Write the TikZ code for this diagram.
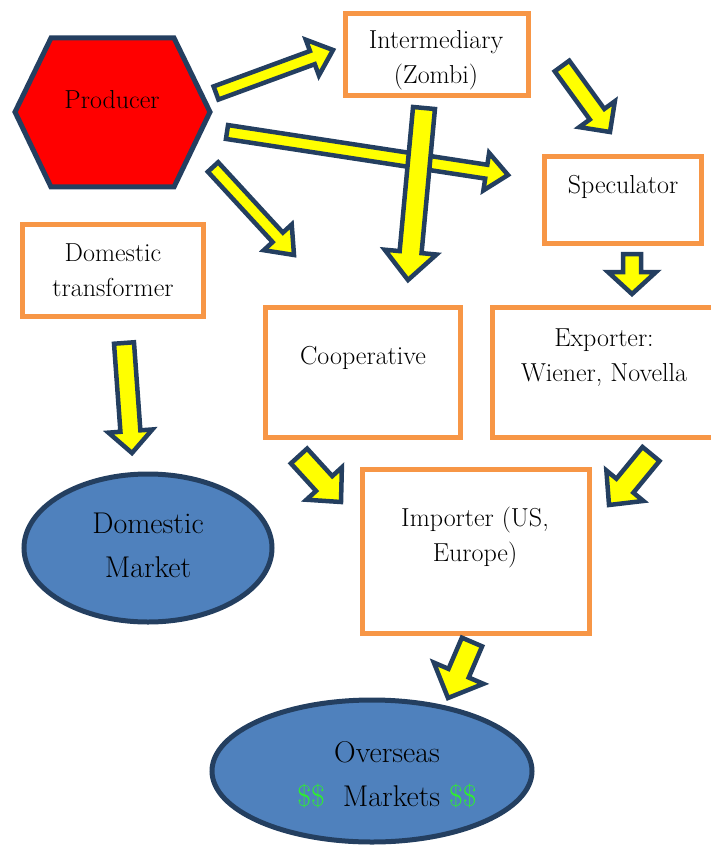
\documentclass[tikz,border=0pt]{standalone}
\usepackage{fontspec}
\usetikzlibrary{shapes.geometric,calc}
\definecolor{navy}{HTML}{243F60}
\definecolor{boxorange}{HTML}{F79646}
\definecolor{mktblue}{HTML}{4F81BD}
\definecolor{dollargreen}{HTML}{2EF02E}
\definecolor{arrowyellow}{HTML}{FFFF00}
\definecolor{prodred}{HTML}{FF0000}

\tikzset{
  box/.style={draw=boxorange, line width=5pt, fill=white, rectangle, inner sep=0pt},
  mkt/.style={draw=navy, line width=5pt, fill=mktblue, ellipse, inner sep=0pt},
  hexa/.style={draw=navy, line width=5pt, fill=prodred, line join=miter},
  lbl/.style={font=\rmfamily\fontsize{26}{35}\selectfont, align=center, inner sep=0pt},
  biglbl/.style={font=\rmfamily\fontsize{30}{44}\selectfont, align=center, inner sep=0pt},
  barrow/.style={draw=navy, line width=4.5pt, fill=arrowyellow, line join=miter},
}

% #1 tail, #2 tip, #3 shaft half width, #4 head half width, #5 head length
\newcommand\blockarrow[5]{%
  \coordinate (ba-h) at ($(#2)!#5!(#1)$);
  \draw[barrow] ($(#1)!#3!90:(#2)$) -- ($(ba-h)!#3!90:(#2)$) -- ($(ba-h)!#4!90:(#2)$)
    -- (#2) -- ($(ba-h)!#4!-90:(#2)$) -- ($(ba-h)!#3!-90:(#2)$) -- ($(#1)!#3!-90:(#2)$) -- cycle;
}

\begin{document}
\begin{tikzpicture}[x=1pt,y=-1pt]
\useasboundingbox (0,0) rectangle (711,850);

% Producer hexagon
\draw[hexa] (15,112) -- (51,38) -- (174,38) -- (210,112) -- (174,187) -- (51,187) -- cycle;
\node[lbl] (prod) at (112,100) {Producer};

% Boxes
\node[box, minimum width=183pt, minimum height=82pt] (inter) at (436.5,55) {};
\node[box, minimum width=157pt, minimum height=86pt] (spec) at (622.5,200) {};
\node[box, minimum width=181pt, minimum height=92pt] (dtrans) at (112.5,270) {};
\node[box, minimum width=195pt, minimum height=130pt] (coop) at (362.5,372) {};
\node[box, minimum width=228pt, minimum height=130pt] (exp) at (606,372) {};
\node[box, minimum width=227pt, minimum height=164pt] (imp) at (475.5,551) {};

% Markets
\node[mkt, minimum width=248pt, minimum height=148pt] (dmkt) at (148,548) {};
\node[mkt, minimum width=320pt, minimum height=142pt] (omkt) at (372,771) {};

% Labels
\node[lbl] (intertxt) at (436,60) {Intermediary\\(Zombi)};
\node[lbl] (spectxt) at (623,187) {Speculator};
\node[lbl] (dtxt) at (113,270) {Domestic\\transformer};
\node[lbl] (cooptxt) at (363,358) {Cooperative};
\node[lbl] (exptxt) at (604,358) {Exporter:\\Wiener, Novella};
\node[lbl] (imptxt) at (475,538) {Importer (US,\\Europe)};
\node[biglbl] (dmtxt) at (148,545) {Domestic\\Market};
\node[biglbl] (ostxt) at (387,775) {Overseas\\\textcolor{dollargreen}{\$\$}\ \ Markets \textcolor{dollargreen}{\$\$}};

% Arrow end points
\coordinate (a1t) at (216,93);  \coordinate (a1h) at (333,50);
\coordinate (a2t) at (227,132); \coordinate (a2h) at (508,175);
\coordinate (a3t) at (213,167); \coordinate (a3h) at (294,255);
\coordinate (a4t) at (424,108); \coordinate (a4h) at (408,280);
\coordinate (a5t) at (562,66);  \coordinate (a5h) at (610,132);
\coordinate (a6t) at (632,254); \coordinate (a6h) at (632,294);
\coordinate (a7t) at (124,343); \coordinate (a7h) at (132,453);
\coordinate (a8t) at (299,456); \coordinate (a8h) at (341,502);
\coordinate (a9t) at (651,454); \coordinate (a9h) at (609,505);
\coordinate (a10t) at (472,642); \coordinate (a10h) at (448,698);

\blockarrow{a1t}{a1h}{7pt}{19pt}{22pt}
\blockarrow{a2t}{a2h}{7pt}{19pt}{22pt}
\blockarrow{a3t}{a3h}{7pt}{19pt}{24pt}
\blockarrow{a4t}{a4h}{11pt}{26pt}{28pt}
\blockarrow{a5t}{a5h}{9pt}{22pt}{22pt}
\blockarrow{a6t}{a6h}{9pt}{24pt}{22pt}
\blockarrow{a7t}{a7h}{10pt}{22pt}{22pt}
\blockarrow{a8t}{a8h}{11pt}{24pt}{25pt}
\blockarrow{a9t}{a9h}{11pt}{24pt}{25pt}
\blockarrow{a10t}{a10h}{11pt}{27pt}{27pt}
\end{tikzpicture}
\end{document}
